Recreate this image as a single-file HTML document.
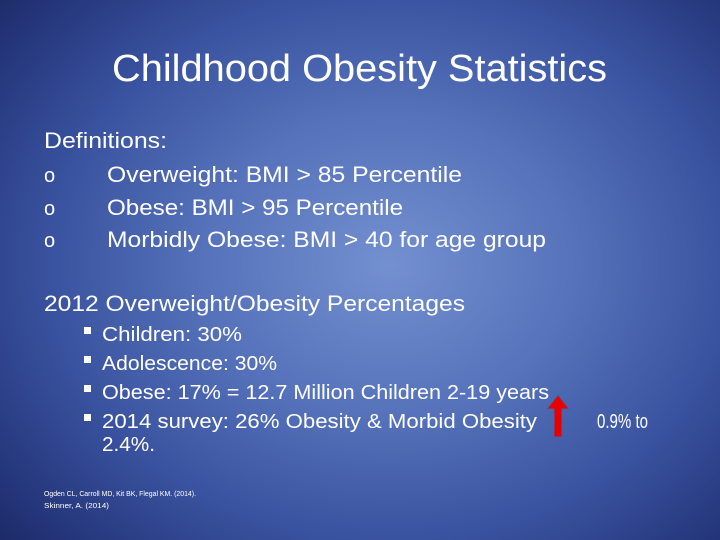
<!DOCTYPE html>
<html><head><meta charset="utf-8"><style>
html,body{margin:0;padding:0}
body{width:720px;height:540px;overflow:hidden;background:radial-gradient(ellipse 520px 420px at 390px 265px,#7390d0 0%,#5673bb 35%,#3a53a0 65%,#24357a 90%,#1c2a66 100%);font-family:"Liberation Sans",sans-serif}
svg{position:absolute;left:0;top:0}
text{fill:#fff;font-family:"Liberation Sans",sans-serif}
</style></head><body>
<svg width="720" height="540">
<text x="112" y="81" font-size="38" textLength="495" lengthAdjust="spacingAndGlyphs">Childhood Obesity Statistics</text>
<text x="44" y="148" font-size="22" textLength="123" lengthAdjust="spacingAndGlyphs">Definitions:</text>
<text x="44" y="182" font-size="20">o</text>
<text x="107" y="182" font-size="22" textLength="355" lengthAdjust="spacingAndGlyphs">Overweight: BMI &gt; 85 Percentile</text>
<text x="44" y="215" font-size="20">o</text>
<text x="107" y="215" font-size="22" textLength="296" lengthAdjust="spacingAndGlyphs">Obese: BMI &gt; 95 Percentile</text>
<text x="44" y="247" font-size="20">o</text>
<text x="107" y="247" font-size="22" textLength="439" lengthAdjust="spacingAndGlyphs">Morbidly Obese: BMI &gt; 40 for age group</text>
<text x="44" y="311" font-size="22" textLength="421" lengthAdjust="spacingAndGlyphs">2012 Overweight/Obesity Percentages</text>
<rect x="84" y="327" width="7" height="7" fill="#fff"/>
<text x="102" y="341" font-size="20" textLength="140" lengthAdjust="spacingAndGlyphs">Children:  30%</text>
<rect x="84" y="356" width="7" height="7" fill="#fff"/>
<text x="102" y="370" font-size="20" textLength="175" lengthAdjust="spacingAndGlyphs">Adolescence: 30%</text>
<rect x="84" y="385" width="7" height="7" fill="#fff"/>
<text x="102" y="399" font-size="20" textLength="447" lengthAdjust="spacingAndGlyphs">Obese: 17% = 12.7 Million Children 2-19 years</text>
<rect x="84" y="414" width="7" height="7" fill="#fff"/>
<text x="102" y="428" font-size="20" textLength="435" lengthAdjust="spacingAndGlyphs">2014 survey:  26% Obesity &amp; Morbid Obesity</text>
<polygon points="558,395 569,409 562,409 562,437 554,437 554,409 547,409" fill="#e80000" stroke="#4a5fa0" stroke-width="1"/>
<text x="597" y="428" font-size="20" textLength="51" lengthAdjust="spacingAndGlyphs">0.9% to</text>
<text x="102" y="451" font-size="20" textLength="53" lengthAdjust="spacingAndGlyphs">2.4%.</text>
<text x="44" y="496" font-size="7" textLength="152" lengthAdjust="spacingAndGlyphs">Ogden CL, Carroll MD, Kit BK, Flegal KM. (2014).</text>
<text x="44" y="508" font-size="7" textLength="65" lengthAdjust="spacingAndGlyphs">Skinner, A. (2014)</text>
</svg>
</body></html>
